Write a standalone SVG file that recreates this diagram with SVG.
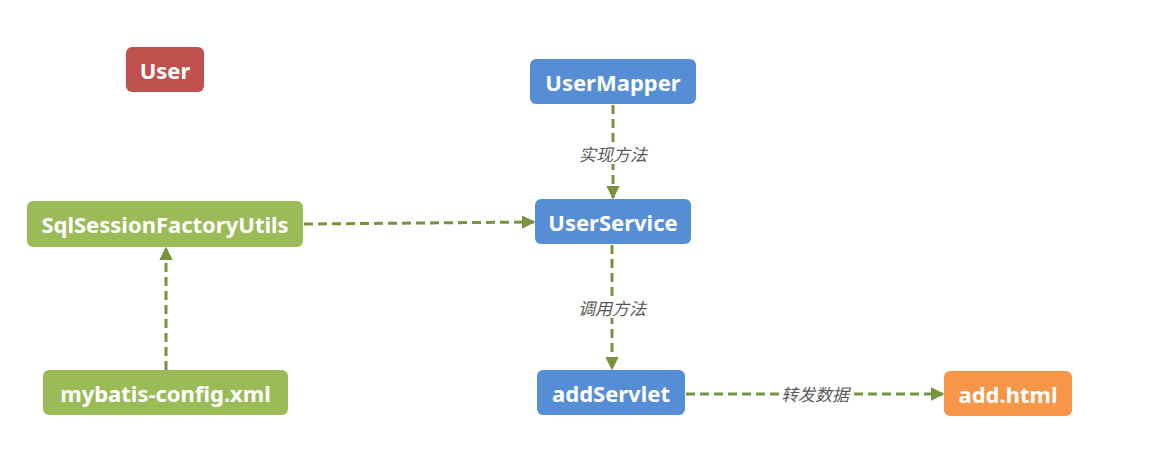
<svg xmlns="http://www.w3.org/2000/svg" width="1149" height="476" viewBox="0 0 1149 476">
<style>
.n text{font-family:"Noto Sans","Liberation Sans",sans-serif;font-weight:bold;font-size:22px;fill:#fff;text-anchor:middle;dominant-baseline:central}
.blue rect{fill:#558ED5}
.green rect{fill:#9BBB59}
.red rect{fill:#C0504D}
.orange rect{fill:#F79646}
.c path{fill:none;stroke:#77933C;stroke-width:3;stroke-dasharray:9 5}
.lbl{font-family:"Noto Sans CJK SC","Noto Sans",sans-serif;font-style:italic;font-size:17px;fill:#595959;text-anchor:middle;dominant-baseline:central}
.bg{fill:#fff}
</style>
<defs>
<marker id="ah" viewBox="0 0 10 10" refX="9" refY="5" markerWidth="4.5" markerHeight="4.5" markerUnits="strokeWidth" orient="auto"><path d="M0,0L10,5L0,10z" fill="#77933C"/></marker>
</defs>
<rect width="1149" height="476" fill="#fff"/>
<g class="c" id="connectors">
<path d="M304,224 L534,222" marker-end="url(#ah)"/>
<path d="M166,370 L166,248" marker-end="url(#ah)"/>
<path d="M613,105 L613,198" marker-end="url(#ah)"/>
<path d="M612,245 L612,369" marker-end="url(#ah)"/>
<path d="M686,394 L943,394" marker-end="url(#ah)"/>
<rect class="bg" x="577" y="142" width="72" height="22"/>
<text class="lbl" x="613" y="153">实现方法</text>
<rect class="bg" x="576" y="296" width="72" height="22"/>
<text class="lbl" x="612" y="307">调用方法</text>
<rect class="bg" x="779" y="383" width="72" height="22"/>
<text class="lbl" x="815" y="393">转发数据</text>
</g>
<g id="User" class="n red"><rect x="126" y="47" width="78" height="45" rx="6"/><text x="165" y="70">User</text></g>
<g id="UserMapper" class="n blue"><rect x="530" y="59" width="166" height="45" rx="6"/><text x="613" y="82">UserMapper</text></g>
<g id="UserService" class="n blue"><rect x="535" y="199" width="156" height="45" rx="6"/><text x="613" y="222">UserService</text></g>
<g id="SqlSessionFactoryUtils" class="n green"><rect x="27" y="201" width="276" height="46" rx="6"/><text x="165" y="224">SqlSessionFactoryUtils</text></g>
<g id="mybatis-config" class="n green"><rect x="43" y="370" width="245" height="45" rx="6"/><text x="165.5" y="393">mybatis-config.xml</text></g>
<g id="addServlet" class="n blue"><rect x="537" y="370" width="148" height="45" rx="6"/><text x="611" y="393">addServlet</text></g>
<g id="add.html" class="n orange"><rect x="944" y="371" width="128" height="45" rx="6"/><text x="1008" y="394">add.html</text></g>
</svg>
